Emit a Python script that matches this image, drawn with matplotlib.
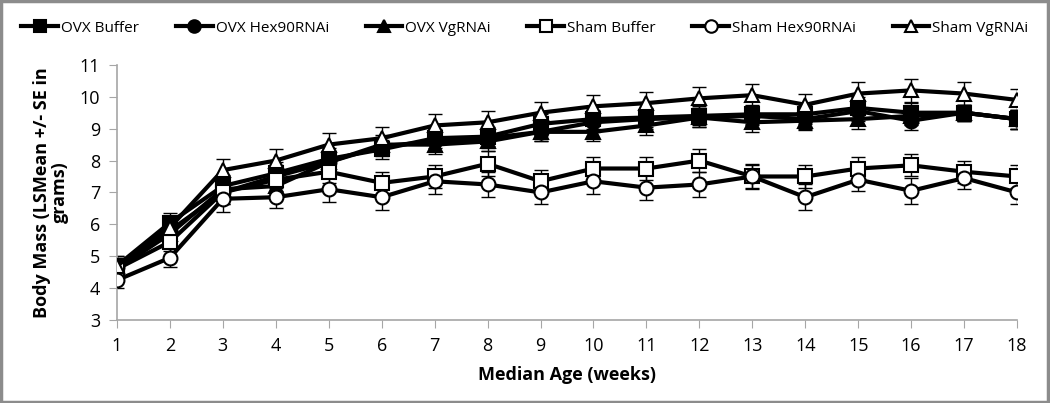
import matplotlib
matplotlib.use("Agg")
import matplotlib.pyplot as plt
from matplotlib.patches import Rectangle

plt.rcParams['font.family'] = ['Open Sans', 'DejaVu Sans']

weeks = list(range(1, 19))
series_names = ["OVX Buffer", "OVX Hex90RNAi", "OVX VgRNAi",
                "Sham Buffer", "Sham Hex90RNAi", "Sham VgRNAi"]

ovx_buffer = [4.70, 6.05, 7.20, 7.60, 8.05, 8.35, 8.70, 8.75, 9.15, 9.30, 9.35, 9.40, 9.45, 9.45, 9.65, 9.50, 9.50, 9.30]
ovx_hex = [4.65, 5.80, 7.00, 7.50, 7.95, 8.45, 8.60, 8.70, 8.90, 9.20, 9.30, 9.35, 9.40, 9.30, 9.55, 9.25, 9.50, 9.30]
ovx_vg = [4.60, 5.70, 7.10, 7.20, 7.95, 8.50, 8.50, 8.60, 8.90, 8.90, 9.10, 9.35, 9.20, 9.25, 9.30, 9.40, 9.50, 9.30]
sham_buffer = [4.60, 5.45, 7.00, 7.40, 7.65, 7.30, 7.50, 7.90, 7.35, 7.75, 7.75, 8.00, 7.50, 7.50, 7.75, 7.85, 7.65, 7.50]
sham_hex = [4.25, 4.95, 6.80, 6.85, 7.10, 6.85, 7.35, 7.25, 7.00, 7.35, 7.15, 7.25, 7.50, 6.85, 7.40, 7.05, 7.45, 7.00]
sham_vg = [4.70, 5.90, 7.70, 8.00, 8.50, 8.70, 9.10, 9.20, 9.50, 9.70, 9.80, 9.95, 10.05, 9.75, 10.10, 10.20, 10.10, 9.90]

err_ovx_buffer = [0.30, 0.30, 0.35, 0.35, 0.35, 0.30, 0.30, 0.30, 0.30, 0.30, 0.30, 0.30, 0.30, 0.30, 0.35, 0.30, 0.25, 0.30]
err_ovx_hex = [0.30, 0.30, 0.35, 0.35, 0.35, 0.30, 0.30, 0.30, 0.30, 0.30, 0.30, 0.30, 0.30, 0.30, 0.30, 0.30, 0.25, 0.30]
err_ovx_vg = [0.30, 0.30, 0.35, 0.35, 0.35, 0.30, 0.30, 0.30, 0.30, 0.30, 0.30, 0.30, 0.30, 0.30, 0.30, 0.30, 0.25, 0.30]
err_sham_buffer = [0.30, 0.30, 0.35, 0.35, 0.35, 0.35, 0.35, 0.40, 0.35, 0.35, 0.35, 0.35, 0.35, 0.35, 0.35, 0.35, 0.35, 0.35]
err_sham_hex = [0.25, 0.30, 0.40, 0.35, 0.40, 0.40, 0.40, 0.40, 0.35, 0.40, 0.40, 0.40, 0.40, 0.40, 0.35, 0.40, 0.35, 0.35]
err_sham_vg = [0.30, 0.30, 0.35, 0.35, 0.35, 0.35, 0.35, 0.35, 0.35, 0.35, 0.35, 0.35, 0.35, 0.35, 0.35, 0.35, 0.35, 0.35]

values = [ovx_buffer, ovx_hex, ovx_vg, sham_buffer, sham_hex, sham_vg]
errors = [err_ovx_buffer, err_ovx_hex, err_ovx_vg, err_sham_buffer, err_sham_hex, err_sham_vg]
markers = ['s', 'o', '^', 's', 'o', '^']
fills = ['black', 'black', 'black', 'white', 'white', 'white']

fig = plt.figure(figsize=(10.5, 4.03), dpi=100)
fig.patches.append(Rectangle((0.001, 0.002), 0.997, 0.995, transform=fig.transFigure,
                             fill=False, edgecolor='#8c8c8c', linewidth=2.5))
ax = fig.add_axes([0.1114, 0.206, 0.8572, 0.633])

handles = []
for name, v, e, m, fc in zip(series_names, values, errors, markers, fills):
    ax.errorbar(weeks, v, yerr=e, fmt='none', ecolor='black', elinewidth=1.0,
                capsize=5, capthick=1.0, zorder=2)
    h, = ax.plot(weeks, v, color='black', linewidth=3.0, marker=m, markersize=10,
                 markerfacecolor=fc, markeredgecolor='black', markeredgewidth=1.5,
                 label=name, zorder=3)
    handles.append(h)

ax.set_xlim(1, 18)
ax.set_ylim(3, 11)
ax.set_xticks(weeks)
ax.set_yticks(range(3, 12))
for s in ['top', 'right']:
    ax.spines[s].set_visible(False)
for s in ['left', 'bottom']:
    ax.spines[s].set_color('#a6a6a6')
    ax.spines[s].set_linewidth(1.2)
ax.tick_params(axis='both', direction='out', length=6, color='#a6a6a6',
               labelsize=13, pad=6)
ax.set_xlabel("Median Age (weeks)", fontsize=13, fontweight='bold', labelpad=8)
ax.set_ylabel("Body Mass (LSMean +/- SE in\ngrams)", fontsize=13, fontweight='bold',
              labelpad=8, linespacing=1.0)

fig.legend(handles=handles, loc='center', bbox_to_anchor=(0.5, 0.93), ncol=6,
           frameon=False, fontsize=11, handlelength=2.4, columnspacing=2.4,
           handletextpad=0.2, markerscale=0.9)

fig.savefig("out.png", dpi=100)
